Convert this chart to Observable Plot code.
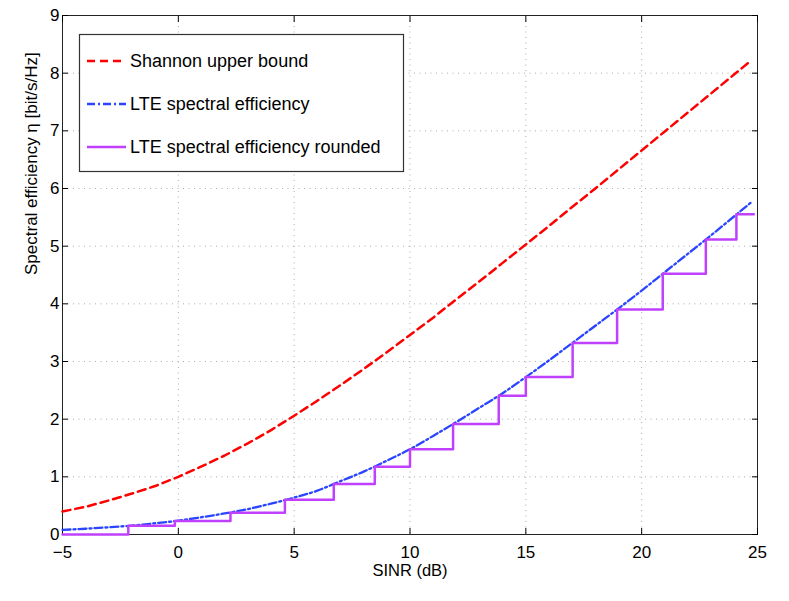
<!DOCTYPE html>
<html>
<head>
<meta charset="utf-8">
<script src="https://cdn.jsdelivr.net/npm/d3@7"></script>
<script src="https://cdn.jsdelivr.net/npm/@observablehq/plot@0.6"></script>
<style>
  html, body { margin: 0; padding: 0; background: #fff; }
  #chart { width: 789px; height: 601px; }
</style>
</head>
<body>
<div id="chart"></div>
<script>
// SINR grid (dB) for the continuous curves
const sinr = [-5,-4,-3,-2,-1,0,1,2,3,4,5,6,7,8,9,10,11,12,13,14,15,16,17,18,19,20,21,22,23,24,24.7];
// Shannon upper bound (bit/s/Hz)
const shannon = [0.40,0.48,0.59,0.71,0.84,1.00,1.18,1.37,1.58,1.81,2.06,2.32,2.59,2.87,3.16,3.46,3.76,4.08,4.39,4.71,5.03,5.35,5.68,6.00,6.33,6.66,6.99,7.32,7.65,7.98,8.21];
// LTE spectral efficiency curve
const lte = [0.08,0.10,0.125,0.155,0.195,0.24,0.30,0.365,0.44,0.535,0.64,0.76,0.925,1.09,1.28,1.48,1.71,1.95,2.20,2.45,2.73,3.02,3.32,3.62,3.92,4.23,4.55,4.87,5.19,5.52,5.75];
// Rounded LTE efficiency: switching SINR (dB) and level
const stepSinr = [-5,-2.16,-0.15,2.25,4.6,6.71,8.48,10.0,11.86,13.83,15.0,17.02,18.94,20.91,22.77,24.09,24.84];
const stepEff  = [0,0.1523,0.2344,0.3770,0.6016,0.8770,1.1758,1.4766,1.9141,2.4063,2.7305,3.3223,3.9023,4.5234,5.1152,5.5547,5.5547];
// Axis ticks
const xTicks = [-5,0,5,10,15,20,25];
const yTicks = [0,1,2,3,4,5,6,7,8,9];
// Labels
const xLabel = "SINR (dB)";
const yLabel = "Spectral efficiency η [bit/s/Hz]";
const seriesNames = ["Shannon upper bound", "LTE spectral efficiency", "LTE spectral efficiency rounded"];

const shannonData = sinr.map((x, i) => ({x, y: shannon[i]}));
const lteData = sinr.map((x, i) => ({x, y: lte[i]}));
const stepData = stepSinr.map((x, i) => ({x, y: stepEff[i]}));

const colors = {red: "#ff0000", blue: "#2a45ff", purple: "#c040ff"};
const dashRed = "8,5";
const dashBlue = "8,3,2,3";

const font = "'Liberation Sans', Arial, Helvetica, sans-serif";

const plot = Plot.plot({
  width: 789,
  height: 601,
  marginLeft: 62,
  marginRight: 32,
  marginTop: 15,
  marginBottom: 67,
  style: {fontFamily: font, fontSize: "17px", background: "#fff", color: "#000"},
  x: {domain: [-5, 25], ticks: xTicks},
  y: {domain: [0, 9], ticks: yTicks},
  marks: [
    Plot.gridX(xTicks, {stroke: "#aaa", strokeOpacity: 1, strokeDasharray: "1,4.5"}),
    Plot.gridY(yTicks, {stroke: "#aaa", strokeOpacity: 1, strokeDasharray: "1,4.5"}),
    Plot.frame({stroke: "#222", strokeWidth: 1}),
    Plot.axisX(xTicks, {anchor: "bottom", tickSize: -6, tickPadding: 17, label: null, fontSize: 17, tickFormat: d3.format("d")}),
    Plot.axisX(xTicks, {anchor: "top", tickSize: -6, tickFormat: () => "", label: null}),
    Plot.axisY(yTicks, {anchor: "left", tickSize: -6, tickPadding: 9, label: null, fontSize: 17, tickFormat: d3.format("d")}),
    Plot.axisY(yTicks, {anchor: "right", tickSize: -6, tickFormat: () => "", label: null}),
    Plot.line(shannonData, {x: "x", y: "y", stroke: colors.red, strokeWidth: 2.5, strokeDasharray: dashRed}),
    Plot.line(lteData, {x: "x", y: "y", stroke: colors.blue, strokeWidth: 2.3, strokeDasharray: dashBlue, curve: "monotone-x"}),
    Plot.line(stepData, {x: "x", y: "y", stroke: colors.purple, strokeWidth: 2.5, curve: "step-after"}),
    Plot.text([xLabel], {frameAnchor: "bottom", dy: 41, fontSize: 16.5, fill: "#000"}),
    Plot.text([yLabel], {frameAnchor: "left", dx: -31, rotate: -90, fontSize: 17, fill: "#000"})
  ]
});

document.getElementById("chart").appendChild(plot);

// Legend box inside plot area (top-left)
const svg = d3.select(plot);
const lg = svg.append("g").attr("font-family", font).attr("font-size", 18).attr("text-anchor", "start");
lg.append("rect").attr("x", 79.5).attr("y", 34.5).attr("width", 324).attr("height", 137)
  .attr("fill", "#fff").attr("stroke", "#333").attr("stroke-width", 1.2);
const rows = [
  {name: seriesNames[0], color: colors.red, dash: dashRed, w: 2.5, y: 61},
  {name: seriesNames[1], color: colors.blue, dash: dashBlue, w: 2.3, y: 104},
  {name: seriesNames[2], color: colors.purple, dash: null, w: 2.5, y: 147}
];
rows.forEach(r => {
  lg.append("line").attr("x1", 87).attr("x2", 126).attr("y1", r.y).attr("y2", r.y)
    .attr("stroke", r.color).attr("stroke-width", r.w).attr("stroke-dasharray", r.dash);
  lg.append("text").attr("x", 130).attr("y", r.y).attr("dy", "0.35em").attr("fill", "#000")
    .attr("text-anchor", "start").text(r.name);
});
</script>
</body>
</html>
